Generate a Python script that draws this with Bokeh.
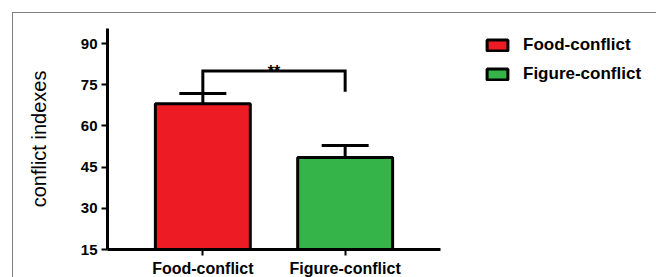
from bokeh.plotting import figure
from bokeh.models import (ColumnDataSource, FactorRange, Range1d, Whisker, TeeHead,
                          Legend, LegendItem, Label, FixedTicker, InlineStyleSheet,
                          GlobalInlineStyleSheet)
from bokeh.embed import file_html
from bokeh.resources import INLINE

# ---- data ----
categories = ["Food-conflict", "Figure-conflict"]
means = [68.1, 48.5]
sem = [3.7, 4.4]
colors = ["#ED1C24", "#35B44A"]
y_ticks = [15, 30, 45, 60, 75, 90]
y_label = "conflict indexes"
bracket_top = 80
bracket_right_end = 72.5
sig_text = "**"

upper = [m + s for m, s in zip(means, sem)]
src = ColumnDataSource(dict(cat=categories, mean=means, upper=upper, color=colors))

FONT = "Liberation Sans"

p = figure(x_range=FactorRange(*categories, range_padding=0.17, range_padding_units="absolute"),
           y_range=Range1d(15, 95.5),
           frame_width=333, frame_height=221, output_backend="svg", toolbar_location=None,
           min_border_left=107, min_border_right=216, min_border_top=28, min_border_bottom=28)

p.outline_line_color = None
p.xgrid.grid_line_color = None
p.ygrid.grid_line_color = None

r = p.vbar(x="cat", top="mean", bottom=0, width=0.667, source=src,
           fill_color="color", line_color="black", line_width=3)

wh = Whisker(source=src, base="cat", upper="upper", lower="mean", dimension="height",
             line_color="black", line_width=3,
             upper_head=TeeHead(size=47, line_color="black", line_width=3),
             lower_head=None)
p.add_layout(wh)

# significance bracket
p.line(x=[categories[0], categories[0], categories[1], categories[1]],
       y=[upper[0], bracket_top, bracket_top, bracket_right_end],
       line_color="black", line_width=3, line_join="miter")
p.add_layout(Label(x=len(categories) / 2, y=bracket_top, text=sig_text,
                   text_align="center", text_baseline="alphabetic",
                   text_font=FONT, text_font_size="16px", text_font_style="bold",
                   text_color="black"))

# axes
for ax in (p.xaxis[0], p.yaxis[0]):
    ax.axis_line_width = 3
    ax.axis_line_color = "black"
    ax.major_tick_line_width = 2
    ax.major_tick_line_color = "black"
    ax.major_tick_out = 6
    ax.major_tick_in = 0
    ax.minor_tick_line_color = None
    ax.major_label_text_font = FONT
    ax.major_label_text_font_style = "bold"
    ax.major_label_text_color = "black"

p.yaxis.ticker = FixedTicker(ticks=y_ticks)
p.yaxis.major_label_text_font_size = "15px"
p.yaxis.major_label_standoff = 4
p.yaxis.axis_label = y_label
p.yaxis.axis_label_text_font = FONT
p.yaxis.axis_label_text_font_style = "normal"
p.yaxis.axis_label_text_font_size = "20px"
p.yaxis.axis_label_text_color = "black"
p.yaxis.axis_label_standoff = 28

p.xaxis.major_label_text_font_size = "16px"
p.xaxis.major_label_standoff = 4

legend = Legend(items=[LegendItem(label=c, renderers=[r], index=i) for i, c in enumerate(categories)],
                location=(44, 165), orientation="vertical",
                glyph_width=26, glyph_height=14, label_height=14, spacing=9,
                padding=0, margin=0, label_standoff=13,
                label_text_font=FONT, label_text_font_style="bold",
                label_text_font_size="17px", label_text_color="black",
                border_line_color=None, background_fill_alpha=0)
p.add_layout(legend, "right")

p.stylesheets = [
    GlobalInlineStyleSheet(css="html, body { overflow: hidden; }"),
    InlineStyleSheet(css=":host::after { content: ''; position: absolute; left: 12px; top: 12px; "
                         "width: 644px; height: 265px; box-sizing: border-box; "
                         "border-left: 1px solid #808080; border-top: 1px solid #808080; "
                         "pointer-events: none; }"),
]

open("out.html", "w").write(file_html(p, INLINE))
